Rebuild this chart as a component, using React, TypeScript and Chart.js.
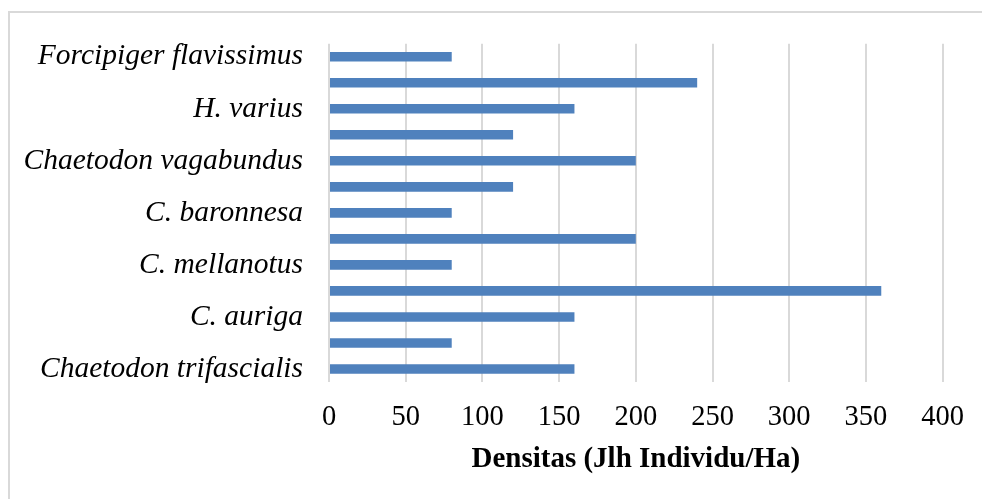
import React, { useEffect, useRef } from "react";
import { Chart, registerables } from "chart.js";

Chart.register(...registerables);

// Categories (top to bottom). Unlabelled rows in the source have no visible name.
const categories: string[] = [
  "Forcipiger flavissimus",
  "",
  "H. varius",
  "",
  "Chaetodon vagabundus",
  "",
  "C. baronnesa",
  "",
  "C. mellanotus",
  "",
  "C. auriga",
  "",
  "Chaetodon trifascialis",
];

const densitas: number[] = [80, 240, 160, 120, 200, 120, 80, 200, 80, 360, 160, 80, 160];

const xMin = 0;
const xMax = 400;
const xStep = 50;
const xTitle = "Densitas (Jlh Individu/Ha)";

const W = 982;
const H = 499;

const frame = {
  id: "outerFrame",
  beforeDraw(chart: any) {
    const ctx = chart.ctx;
    ctx.save();
    ctx.fillStyle = "#ffffff";
    ctx.fillRect(0, 0, chart.width, chart.height);
    ctx.strokeStyle = "#D9D9D9";
    ctx.lineWidth = 2;
    ctx.strokeRect(9, 12, chart.width + 20, chart.height + 20);
    ctx.restore();
  },
};

export default function App() {
  const ref = useRef<HTMLCanvasElement | null>(null);

  useEffect(() => {
    if (!ref.current) return;
    const serif = "'Times New Roman', 'Liberation Serif', serif";
    const chart = new Chart(ref.current, {
      type: "bar",
      data: {
        labels: categories,
        datasets: [
          {
            label: "Densitas",
            data: densitas,
            backgroundColor: "#4F81BD",
            borderWidth: 0,
            categoryPercentage: 1,
            barPercentage: 0.37,
          },
        ],
      },
      options: {
        indexAxis: "y",
        animation: false,
        responsive: false,
        maintainAspectRatio: false,
        layout: { padding: { left: 0, right: 36, top: 41, bottom: 22 } },
        plugins: {
          legend: { display: false },
          tooltip: { enabled: false },
        },
        scales: {
          x: {
            min: xMin,
            max: xMax,
            ticks: {
              stepSize: xStep,
              padding: 18,
              color: "#000000",
              font: { family: serif, size: 28.5 },
              maxRotation: 0,
            },
            grid: { color: "#D9D9D9", lineWidth: 2, drawTicks: false },
            border: { display: false },
            title: {
              display: true,
              text: xTitle,
              color: "#000000",
              font: { family: serif, size: 29, weight: "bold" },
              padding: { top: 0, bottom: 0 },
            },
            afterFit(scale: any) {
              scale.height = 95;
            },
          },
          y: {
            ticks: {
              autoSkip: false,
              padding: 26,
              color: "#000000",
              font: { family: serif, size: 29.5, style: "italic" },
            },
            grid: { display: false, drawTicks: false },
            border: { display: false },
            afterFit(scale: any) {
              scale.width = 329;
            },
          },
        },
      },
      plugins: [frame],
    });
    return () => chart.destroy();
  }, []);

  return (
    <div style={{ position: "fixed", left: 0, top: 0, width: W, height: H }}>
      <canvas ref={ref} width={W} height={H} style={{ width: W, height: H }} />
    </div>
  );
}
